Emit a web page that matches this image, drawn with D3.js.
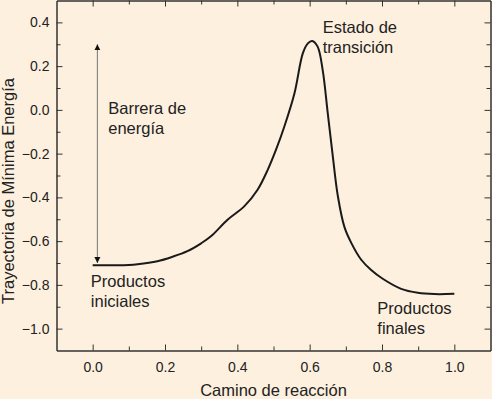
<!DOCTYPE html>
<html>
<head>
  <meta charset="utf-8">
  <script src="https://d3js.org/d3.v7.min.js"></script>
  <style>
    body { margin: 0; background: #fdf0de; }
    svg { display: block; }
    text { font-family: "Liberation Sans", Arial, sans-serif; fill: #222; }
    .axis path, .axis line { stroke: #333; }
    .axis path { stroke-width: 1.5; }
  </style>
</head>
<body>
  <svg id="chart" width="492" height="399"></svg>
  <script>
    // reaction coordinate and energy along the minimum energy path
    const pathX = [0, 0.05, 0.10, 0.124, 0.179, 0.22, 0.262, 0.30, 0.327, 0.373, 0.419, 0.456, 0.484, 0.507,
      0.530, 0.558, 0.581, 0.595, 0.607, 0.622, 0.636, 0.650, 0.664, 0.678, 0.696, 0.715, 0.742, 0.770,
      0.802, 0.853, 0.899, 0.945, 1.0];
    const pathE = [-0.71, -0.71, -0.709, -0.706, -0.692, -0.672, -0.646, -0.61, -0.578, -0.502, -0.441, -0.365,
      -0.274, -0.182, -0.076, 0.076, 0.258, 0.304, 0.315, 0.289, 0.182, -0.015, -0.213, -0.395, -0.535,
      -0.608, -0.684, -0.732, -0.772, -0.818, -0.836, -0.842, -0.841];

    const xTicks = [0.0, 0.2, 0.4, 0.6, 0.8, 1.0];
    const xMinor = [0.1, 0.3, 0.5, 0.7, 0.9];
    const yTicks = [-1.0, -0.8, -0.6, -0.4, -0.2, 0.0, 0.2, 0.4];
    const yMinor = [-0.9, -0.7, -0.5, -0.3, -0.1, 0.1, 0.3];

    // energy barrier arrow: from reactants level up to the transition state
    const barrierX = 0.013;
    const barrierFrom = -0.70;
    const barrierTo = 0.30;

    const labels = [
      { lines: ['Barrera de', 'energía'], x: 0.043, y: -0.02 },
      { lines: ['Productos', 'iniciales'], x: -0.005, y: -0.808 },
      { lines: ['Estado de', 'transición'], x: 0.636, y: 0.351 },
      { lines: ['Productos', 'finales'], x: 0.787, y: -0.935 }
    ];

    const svg = d3.select('svg#chart');
    const margins = { top: 0.5, right: 1.5, bottom: 48.5, left: 56.5 };
    const width = +svg.attr('width');
    const height = +svg.attr('height');
    const chartWidth = width - margins.left - margins.right;
    const chartHeight = height - margins.top - margins.bottom;

    const xScale = d3.scaleLinear().domain([-0.1, 1.1]).range([0, chartWidth]);
    const yScale = d3.scaleLinear().domain([-1.1, 0.5]).range([chartHeight, 0]);

    const chartArea = svg.append('g')
      .attr('transform', `translate(${margins.left},${margins.top})`);

    const fmt = d3.format('.1f');

    // bottom axis with labels + minor ticks
    chartArea.append('g').attr('class', 'axis')
      .attr('transform', `translate(0,${chartHeight})`)
      .call(d3.axisBottom(xScale).tickValues(xTicks).tickSizeInner(-6).tickSizeOuter(0).tickPadding(12).tickFormat(fmt))
      .call(g => g.selectAll('text').style('font-size', '14px').attr('fill', '#222'));
    chartArea.append('g').attr('class', 'axis')
      .attr('transform', `translate(0,${chartHeight})`)
      .call(d3.axisBottom(xScale).tickValues(xMinor).tickSizeInner(-4).tickSizeOuter(0).tickFormat(''))
      .call(g => g.select('.domain').remove());

    // top axis
    chartArea.append('g').attr('class', 'axis')
      .call(d3.axisTop(xScale).tickValues(xTicks).tickSizeInner(-6).tickSizeOuter(0).tickFormat(''));
    chartArea.append('g').attr('class', 'axis')
      .call(d3.axisTop(xScale).tickValues(xMinor).tickSizeInner(-4).tickSizeOuter(0).tickFormat(''))
      .call(g => g.select('.domain').remove());

    // left axis
    chartArea.append('g').attr('class', 'axis')
      .call(d3.axisLeft(yScale).tickValues(yTicks).tickSizeInner(-6).tickSizeOuter(0).tickPadding(7).tickFormat(fmt))
      .call(g => g.selectAll('text').style('font-size', '14px').attr('fill', '#222'));
    chartArea.append('g').attr('class', 'axis')
      .call(d3.axisLeft(yScale).tickValues(yMinor).tickSizeInner(-4).tickSizeOuter(0).tickFormat(''))
      .call(g => g.select('.domain').remove());

    // right axis
    chartArea.append('g').attr('class', 'axis')
      .attr('transform', `translate(${chartWidth},0)`)
      .call(d3.axisRight(yScale).tickValues(yTicks).tickSizeInner(-6).tickSizeOuter(0).tickFormat(''));
    chartArea.append('g').attr('class', 'axis')
      .attr('transform', `translate(${chartWidth},0)`)
      .call(d3.axisRight(yScale).tickValues(yMinor).tickSizeInner(-4).tickSizeOuter(0).tickFormat(''))
      .call(g => g.select('.domain').remove());

    // axis titles
    svg.append('text')
      .text('Camino de reacción')
      .attr('x', margins.left + xScale(0.5))
      .attr('y', 396)
      .attr('text-anchor', 'middle')
      .style('font-size', '16.5px');

    svg.append('g')
      .attr('transform', `translate(14, 191) rotate(-90)`)
      .append('text')
      .text('Trayectoria de Mínima Energía')
      .attr('text-anchor', 'middle')
      .style('font-size', '16.5px');

    // arrow markers
    const defs = svg.append('defs');
    defs.append('marker')
      .attr('id', 'head')
      .attr('viewBox', '0 0 10 10')
      .attr('refX', 10).attr('refY', 5)
      .attr('markerWidth', 6).attr('markerHeight', 10)
      .attr('markerUnits', 'userSpaceOnUse')
      .attr('orient', 'auto-start-reverse')
      .append('path')
      .attr('d', 'M0,0 L10,5 L0,10 Z')
      .attr('fill', '#111');

    chartArea.append('line')
      .attr('x1', xScale(barrierX)).attr('y1', yScale(barrierFrom))
      .attr('x2', xScale(barrierX)).attr('y2', yScale(barrierTo))
      .attr('stroke', '#777')
      .attr('stroke-width', 1)
      .attr('marker-start', 'url(#head)')
      .attr('marker-end', 'url(#head)');

    // energy curve
    const data = pathX.map((x, i) => ({ x: x, e: pathE[i] }));
    chartArea.append('path')
      .datum(data)
      .attr('fill', 'none')
      .attr('stroke', '#1a1a1a')
      .attr('stroke-width', 2)
      .attr('stroke-linejoin', 'round')
      .attr('d', d3.line()
        .x(d => xScale(d.x))
        .y(d => yScale(d.e))
        .curve(d3.curveCatmullRom.alpha(0.5)));

    // annotations
    labels.forEach(l => {
      const t = chartArea.append('text')
        .attr('x', xScale(l.x))
        .attr('y', yScale(l.y))
        .style('font-size', '16.5px');
      l.lines.forEach((s, i) => {
        t.append('tspan')
          .attr('x', xScale(l.x))
          .attr('dy', i === 0 ? 0 : 20)
          .text(s);
      });
    });
  </script>
</body>
</html>
